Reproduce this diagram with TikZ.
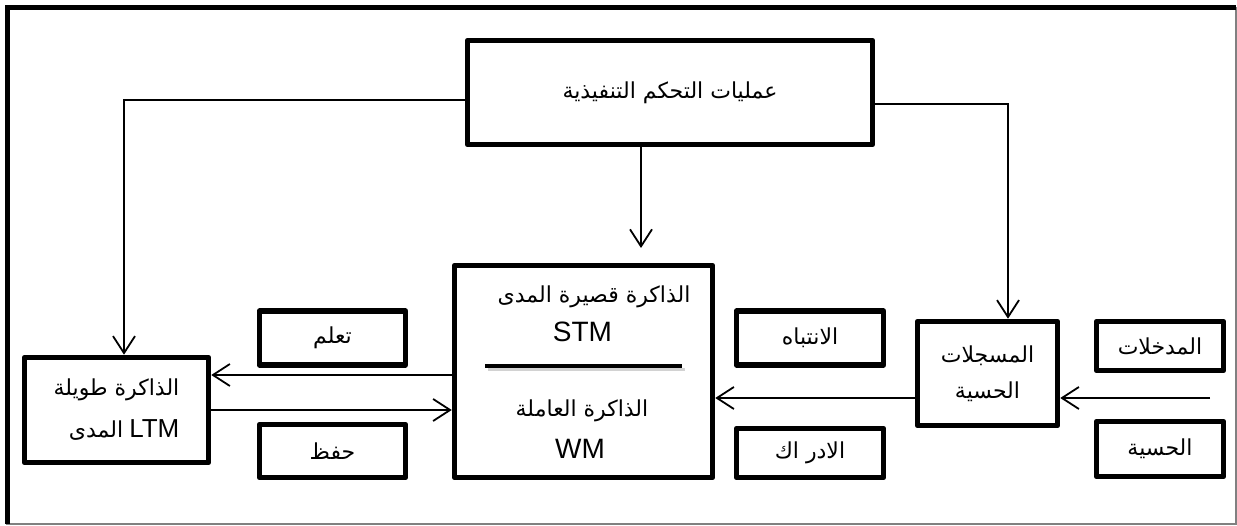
\documentclass[tikz,border=0pt]{standalone}
\usepackage{fontspec}
\setmainfont{Liberation Sans}
\newfontfamily\arabicfont[Script=Arabic]{DejaVu Sans}
\TeXXeTstate=1
\usetikzlibrary{positioning,calc,arrows.meta}
\newcommand{\artxt}[1]{{\arabicfont\beginR #1\endR}}
\tikzset{
  box/.style={
    draw,
    rectangle,
    line width=5.5pt,
    line join=round,
    inner sep=0pt,
    align=center,
    font=\fontsize{22}{36}\selectfont
    },
  link/.style={line width=1.8pt},
  arr/.style={link, -{Straight Barb[length=17pt,width=22pt,line width=1.8pt]}},
  lbl/.style={anchor=base, inner sep=0pt},
  %latin/.style={font=\fontsize{28}{30}\selectfont}
}
\begin{document}
\begin{tikzpicture}[x=1pt,y=-1pt]
    \useasboundingbox (0,0) rectangle (1237,526);
    % frame
    \draw [gray, line width=1.4pt] (7,8) rectangle (1236,524);
    \draw [line width=5pt] (7,524) -- (7,8) -- (1236,8);

    \node [box, minimum width=405, minimum height=104] (ctrl) at (670,92.5) {\artxt{عمليات التحكم التنفيذية}};
    \node [box, minimum width=258, minimum height=212] (wm) at (583.5,371.5) {};
    \node [box, minimum width=184, minimum height=105, align=right, font=\fontsize{22}{42}\selectfont] (ltm) at (116.5,410)
        {\artxt{الذاكرة طويلة}\\\artxt{المدى} {\fontsize{26}{30}\selectfont LTM}};
    \node [box, minimum width=146, minimum height=54] (learn) at (332.5,338) {\artxt{تعلم}};
    \node [box, minimum width=146, minimum height=53] (keep) at (332.5,451) {\artxt{حفظ}};
    \node [box, minimum width=147, minimum height=54] (attn) at (810,338) {\artxt{الانتباه}};
    \node [box, minimum width=147, minimum height=49] (perc) at (810,453) {\artxt{الادر اك}};
    \node [box, minimum width=140, minimum height=104] (sens) at (987.5,373.5) {\artxt{المسجلات}\\\artxt{الحسية}};
    \node [box, minimum width=127, minimum height=49] (inp) at (1160,346) {\artxt{المدخلات}};
    \node [box, minimum width=127, minimum height=55] (insens) at (1160,449) {\artxt{الحسية}};

    % inside the working memory box
    \node [lbl, font=\fontsize{22}{24}\selectfont] (stmar) at (594,303) {\artxt{الذاكرة قصيرة المدى}};
    \node [lbl, font=\fontsize{28}{30}\selectfont] (stm) at (582.5,342) {STM};
    \draw [gray!35, line width=3pt] (488,370) -- (685,370);
    \draw [line width=4.5pt] (485,366) -- (682,366);
    \node [lbl, font=\fontsize{22}{24}\selectfont] (wmar) at (582,417) {\artxt{الذاكرة العاملة}};
    \node [lbl, font=\fontsize{28}{30}\selectfont] (wmla) at (580,458) {WM};

    \coordinate (wmin) at (641,248);
    \coordinate (src) at (1210,398);
    \draw [arr] ([yshift=-7.5pt]ctrl.west) -| ([xshift=7.5pt]ltm.north);
    \draw [arr] ([yshift=-11.5pt]ctrl.east) -| ([xshift=20.5pt]sens.north);
    \draw [arr] (ctrl.south -| wmin) -- (wmin);
    \draw [arr] (wm.west |- 0,375) -- (ltm.east |- 0,375);
    \draw [arr] (ltm.east) -- (wm.west |- ltm.east);
    \draw [arr] (sens.west |- 0,398) -- (wm.east |- 0,398);
    \draw [arr] (src) -- (sens.east |- src);
\end{tikzpicture}
\end{document}
